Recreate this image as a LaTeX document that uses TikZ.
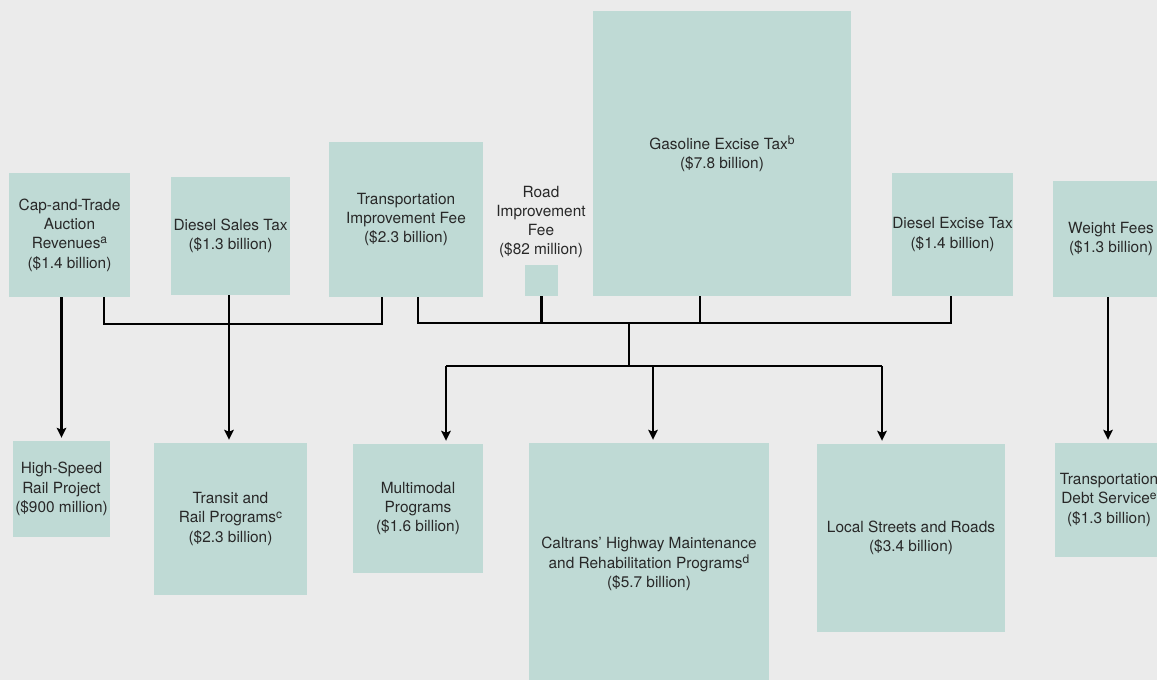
\documentclass[tikz,border=0pt]{standalone}
\usepackage{fontspec}
\setmainfont{TeX Gyre Heros}
\usetikzlibrary{arrows.meta}
\definecolor{bgc}{RGB}{235,235,235}
\definecolor{boxc}{RGB}{191,218,213}
\definecolor{txtc}{RGB}{40,40,40}
\newcommand{\supmark}[1]{\raisebox{0.6ex}{\fontsize{12}{12}\selectfont #1}}
\begin{document}
\begin{tikzpicture}[x=1pt,y=-1pt,
  box/.style={fill=boxc, draw=none, inner sep=0pt, align=center, text=txtc,
              font=\fontsize{15.4}{19.3}\selectfont},
  lbl/.style={inner sep=0pt, align=center, text=txtc, font=\fontsize{15.4}{19.3}\selectfont},
  conn/.style={line width=2.8pt, black},
  arr/.style={conn, -{Stealth[length=10pt,width=9.5pt,inset=2pt]}, shorten >=3pt}]
\useasboundingbox (0,0) rectangle (1157,680);
\clip (0,0) rectangle (1157,680);
\fill[bgc] (0,0) rectangle (1157,680);

% sources
\node[box, minimum width=121pt, minimum height=124pt] (cat) at (69.5,235)
  {Cap-and-Trade\\Auction\\Revenues\supmark{a}\\(\$1.4 billion)};
\node[box, minimum width=119pt, minimum height=118pt] (dst) at (230.5,236)
  {Diesel Sales Tax\\(\$1.3 billion)};
\node[box, minimum width=154pt, minimum height=155pt] (tif) at (406,219.5)
  {Transportation\\Improvement Fee\\(\$2.3 billion)};
\node[box, minimum width=33pt, minimum height=31pt] (rif) at (541.5,280.5) {};
\node[lbl] (riflbl) at (541,222) {Road\\Improvement\\Fee\\(\$82 million)};
\node[box, minimum width=258pt, minimum height=285pt] (gas) at (722,153.5)
  {Gasoline Excise Tax\supmark{b}\\(\$7.8 billion)};
\node[box, minimum width=121pt, minimum height=123pt] (det) at (952.5,234.5)
  {Diesel Excise Tax\\(\$1.4 billion)};
\node[box, minimum width=116pt, minimum height=116pt] (wf) at (1111,239)
  {Weight Fees\\(\$1.3 billion)};

% uses
\node[box, minimum width=97pt, minimum height=96pt] (hsr) at (61.5,489)
  {High-Speed\\Rail Project\\(\$900 million)};
\node[box, minimum width=153pt, minimum height=152pt] (trp) at (230.5,519)
  {Transit and\\Rail Programs\supmark{c}\\(\$2.3 billion)};
\node[box, minimum width=130pt, minimum height=129pt] (mmp) at (418,508.5)
  {Multimodal\\Programs\\(\$1.6 billion)};
\node[box, minimum width=240pt, minimum height=242pt] (cal) at (649,564)
  {Caltrans’ Highway Maintenance\\and Rehabilitation Programs\supmark{d}\\(\$5.7 billion)};
\node[box, minimum width=188pt, minimum height=188pt] (lsr) at (911,538)
  {Local Streets and Roads\\(\$3.4 billion)};
\node[box, minimum width=108pt, minimum height=114pt] (tds) at (1109,500)
  {Transportation\\Debt Service\supmark{e}\\(\$1.3 billion)};

% junction coordinates
\coordinate (lbus) at (104,324);
\coordinate (hub) at (629,323);
\coordinate (split) at (629,366);

% left group
\draw[arr] (hsr.north |- cat.south) -- (hsr.north);
\draw[conn] ([xshift=34.5pt]cat.south) |- (lbus) -| ([xshift=-24pt]tif.south);
\draw[arr] ([xshift=-1.5pt]dst.south) -- ([xshift=-1.5pt]dst.south |- trp.north);

% right group
\draw[conn] ([xshift=12pt]tif.south) |- ([xshift=-1.5pt]det.south |- hub) -- ([xshift=-1.5pt]det.south);
\draw[conn] (rif.south) -- (rif.south |- hub);
\draw[conn] ([xshift=-22pt]gas.south) -- ([xshift=-22pt]gas.south |- hub);
\draw[conn] (hub) -- (split);
\draw[conn] ([xshift=28pt]mmp.north |- split) -- ([xshift=-29pt]lsr.north |- split);
\draw[arr] ([xshift=28pt]mmp.north |- split) -- ([xshift=28pt]mmp.north);
\draw[arr] ([xshift=4pt]cal.north |- split) -- ([xshift=4pt]cal.north);
\draw[arr] ([xshift=-29pt]lsr.north |- split) -- ([xshift=-29pt]lsr.north);

% weight fees
\draw[arr] ([xshift=-1pt]tds.north |- wf.south) -- ([xshift=-1pt]tds.north);
\end{tikzpicture}
\end{document}
